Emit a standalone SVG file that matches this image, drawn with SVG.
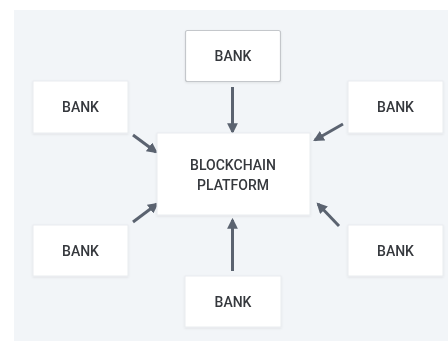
<svg xmlns="http://www.w3.org/2000/svg" width="448" height="341" viewBox="0 0 448 341">
<defs>
<style>
.box{fill:#ffffff;stroke:#e9ecef;stroke-width:1}
.boxb{fill:#ffffff;stroke:#c4c7cb;stroke-width:1.2}
.t{font-family:Roboto,"Liberation Sans",sans-serif;font-size:14px;font-weight:500;fill:#35383d;text-anchor:middle;dominant-baseline:central}
.c{stroke:#5b6370;stroke-width:3;fill:none;marker-end:url(#ah)}
</style>
<marker id="ah" viewBox="0 0 10 10" refX="8" refY="5" markerWidth="3.6" markerHeight="3.6" orient="auto" markerUnits="strokeWidth">
<path d="M0,0 L10,5 L0,10 z" fill="#5b6370"/>
</marker>
<filter id="sh" x="-10%" y="-10%" width="120%" height="130%">
<feDropShadow dx="0" dy="1" stdDeviation="1" flood-color="#000" flood-opacity="0.08"/>
</filter>
</defs>
<rect x="0" y="0" width="448" height="341" fill="#ffffff"/>
<rect x="14" y="10" width="434" height="331" fill="#f2f5f8"/>
<g id="connectors">
<line class="c" x1="232.5" y1="87" x2="232.5" y2="132"/>
<line class="c" x1="232.5" y1="271" x2="232.5" y2="220"/>
<line class="c" x1="133" y1="135" x2="156" y2="152"/>
<line class="c" x1="343" y1="124" x2="315" y2="140"/>
<line class="c" x1="133" y1="222" x2="157" y2="204"/>
<line class="c" x1="339" y1="226" x2="318" y2="204"/>
</g>
<g id="center" filter="url(#sh)">
<rect class="box" x="157" y="133" width="153" height="82"/>
<text class="t" x="233" y="165">BLOCKCHAIN</text>
<text class="t" x="233" y="184.5">PLATFORM</text>
</g>
<g id="bank-top" filter="url(#sh)">
<rect class="boxb" x="185.5" y="30.5" width="95" height="51" rx="2"/>
<text class="t" x="233" y="56">BANK</text>
</g>
<g id="bank-left-top" filter="url(#sh)">
<rect class="box" x="33" y="81" width="95" height="52"/>
<text class="t" x="80.5" y="107">BANK</text>
</g>
<g id="bank-right-top" filter="url(#sh)">
<rect class="box" x="348" y="81" width="95" height="52"/>
<text class="t" x="395.5" y="107">BANK</text>
</g>
<g id="bank-left-bottom" filter="url(#sh)">
<rect class="box" x="33" y="225" width="95" height="51"/>
<text class="t" x="80.5" y="250.5">BANK</text>
</g>
<g id="bank-right-bottom" filter="url(#sh)">
<rect class="box" x="348" y="225" width="95" height="51"/>
<text class="t" x="395.5" y="250.5">BANK</text>
</g>
<g id="bank-bottom" filter="url(#sh)">
<rect class="box" x="185" y="276" width="96" height="51"/>
<text class="t" x="233" y="301.5">BANK</text>
</g>
</svg>
